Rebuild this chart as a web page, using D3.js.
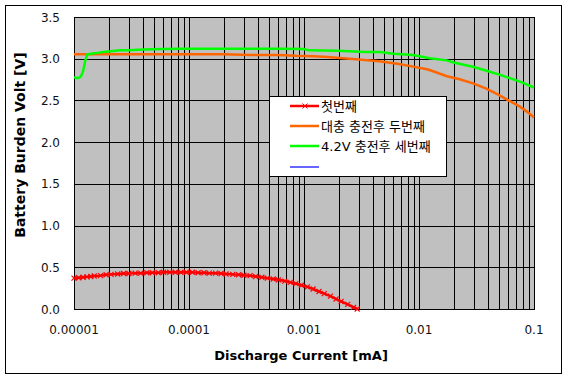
<!DOCTYPE html>
<html>
<head>
<meta charset="utf-8">
<script src="https://cdn.jsdelivr.net/npm/d3@7"></script>
<style>
  html, body { margin: 0; padding: 0; background: #fff; }
  svg { display: block; font-family: "DejaVu Sans", "Noto Sans CJK KR", sans-serif; }
</style>
</head>
<body>
<div id="chart"></div>
<script>
// series names (legend)
const seriesNames = ['첫번째', '대충 충전후 두번째', '4.2V 충전후 세번째', ''];
const seriesColours = ['#ff0000', '#ff6600', '#00ff00', '#0000ff'];

// first run: [current mA, volt]
const firstRun = [
  [1.0e-5, 0.37], [1.1e-5, 0.375], [1.2e-5, 0.38], [1.3e-5, 0.385], [1.4e-5, 0.39],
  [1.5e-5, 0.395], [1.7e-5, 0.40], [1.9e-5, 0.41], [2.1e-5, 0.415], [2.4e-5, 0.42],
  [2.7e-5, 0.425], [3.0e-5, 0.425], [3.4e-5, 0.43], [3.8e-5, 0.43], [4.3e-5, 0.435],
  [4.8e-5, 0.435], [5.4e-5, 0.435], [6.0e-5, 0.44], [6.8e-5, 0.44], [7.6e-5, 0.44],
  [8.5e-5, 0.44], [9.5e-5, 0.44], [1.07e-4, 0.44], [1.2e-4, 0.435], [1.35e-4, 0.435],
  [1.5e-4, 0.43], [1.7e-4, 0.43], [1.9e-4, 0.425], [2.1e-4, 0.42], [2.4e-4, 0.415],
  [2.7e-4, 0.41], [3.0e-4, 0.405], [3.4e-4, 0.40], [3.8e-4, 0.39], [4.3e-4, 0.38],
  [4.8e-4, 0.37], [5.4e-4, 0.36], [6.0e-4, 0.35], [6.8e-4, 0.335], [7.6e-4, 0.32],
  [8.5e-4, 0.305], [9.5e-4, 0.285], [1.07e-3, 0.265], [1.2e-3, 0.24], [1.35e-3, 0.21],
  [1.5e-3, 0.185], [1.7e-3, 0.155], [1.9e-3, 0.12], [2.1e-3, 0.09], [2.4e-3, 0.055],
  [2.7e-3, 0.02], [2.9e-3, 0.0],
];

// second run (rough charge)
const secondRun = [
  [1e-5, 3.055], [5e-5, 3.055], [1e-4, 3.055], [2e-4, 3.055], [3.5e-4, 3.045],
  [6e-4, 3.045], [8.5e-4, 3.035], [1.2e-3, 3.03], [1.6e-3, 3.02], [2.2e-3, 3.005],
  [3.0e-3, 2.99], [4.5e-3, 2.97], [6.5e-3, 2.94], [8.9e-3, 2.905], [0.012, 2.87],
  [0.0175, 2.79], [0.023, 2.75], [0.0295, 2.705], [0.038, 2.645], [0.048, 2.575],
  [0.06, 2.5], [0.0755, 2.425], [0.088, 2.36], [0.1, 2.295],
];

// third run (after 4.2V charge)
const thirdRun = [
  [1e-5, 2.78], [1.05e-5, 2.77], [1.1e-5, 2.77], [1.15e-5, 2.79], [1.2e-5, 2.85],
  [1.25e-5, 2.97], [1.3e-5, 3.05], [1.4e-5, 3.06], [1.6e-5, 3.07], [1.8e-5, 3.08],
  [2.1e-5, 3.09], [2.5e-5, 3.1], [3e-5, 3.1], [4e-5, 3.11], [6e-5, 3.115],
  [8.4e-5, 3.12], [1.5e-4, 3.12], [3e-4, 3.12], [6e-4, 3.12], [1e-3, 3.115],
  [1.1e-3, 3.1], [2e-3, 3.095], [3.4e-3, 3.08], [4.6e-3, 3.08], [6e-3, 3.06],
  [8.9e-3, 3.045], [0.0124, 3.005], [0.0175, 2.98], [0.02, 2.955], [0.03, 2.9],
  [0.04, 2.85], [0.05, 2.81], [0.0755, 2.725], [0.1, 2.655],
];

const xTicks = [1e-5, 1e-4, 1e-3, 1e-2, 1e-1];
const xTickLabels = ['0.00001', '0.0001', '0.001', '0.01', '0.1'];
const yTicks = [0, 0.5, 1, 1.5, 2, 2.5, 3, 3.5];

const width = 568;
const height = 379;
const plot = { left: 74, top: 17, right: 534, bottom: 309 };

const x = d3.scaleLog().domain([1e-5, 0.1]).range([plot.left, plot.right]);
const y = d3.scaleLinear().domain([0, 3.5]).range([plot.bottom, plot.top]);

const svg = d3.select('#chart').append('svg')
    .attr('width', width)
    .attr('height', height);

// outer frame
svg.append('rect')
    .attr('x', 5.5).attr('y', 5.5)
    .attr('width', 556).attr('height', 368)
    .attr('fill', '#fff').attr('stroke', '#000');

// plot background
svg.append('rect')
    .attr('x', plot.left).attr('y', plot.top)
    .attr('width', plot.right - plot.left).attr('height', plot.bottom - plot.top)
    .attr('fill', '#c0c0c0');

// vertical grid: every 1..9 of each decade
const xGrid = [];
for (let d = -5; d < -1; d++) {
  for (let m = 1; m <= 9; m++) xGrid.push(m * Math.pow(10, d));
}
xGrid.push(0.1);

svg.append('g').selectAll('line')
    .data(xGrid)
  .enter().append('line')
    .attr('x1', d => Math.round(x(d)) + 0.5)
    .attr('x2', d => Math.round(x(d)) + 0.5)
    .attr('y1', plot.top).attr('y2', plot.bottom)
    .attr('stroke', '#000');

svg.append('g').selectAll('line')
    .data(yTicks)
  .enter().append('line')
    .attr('x1', plot.left).attr('x2', plot.right)
    .attr('y1', d => Math.round(y(d)) + 0.5)
    .attr('y2', d => Math.round(y(d)) + 0.5)
    .attr('stroke', '#000');

svg.append('rect')
    .attr('x', plot.left + 0.5).attr('y', plot.top + 0.5)
    .attr('width', plot.right - plot.left).attr('height', plot.bottom - plot.top)
    .attr('fill', 'none').attr('stroke', '#000');

// tick labels
svg.append('g').selectAll('text')
    .data(yTicks)
  .enter().append('text')
    .attr('x', 60)
    .attr('y', d => y(d) + 4.5)
    .attr('text-anchor', 'end')
    .attr('font-size', 12)
    .attr('fill', '#111')
    .text(d => d.toFixed(1));

svg.append('g').selectAll('text')
    .data(xTicks)
  .enter().append('text')
    .attr('x', d => x(d))
    .attr('y', 334)
    .attr('text-anchor', 'middle')
    .attr('font-size', 12)
    .attr('fill', '#111')
    .text((d, i) => xTickLabels[i]);

// axis titles
svg.append('text')
    .attr('x', 301).attr('y', 360)
    .attr('text-anchor', 'middle')
    .attr('font-size', 13).attr('font-weight', 'bold')
    .text('Discharge Current [mA]');

svg.append('text')
    .attr('transform', 'translate(25,145) rotate(-90)')
    .attr('text-anchor', 'middle')
    .attr('font-size', 14).attr('font-weight', 'bold')
    .text('Battery Burden Volt [V]');

// series
const line = d3.line().x(d => x(d[0])).y(d => y(d[1]));
svg.append('clipPath').attr('id', 'plotclip')
  .append('rect')
    .attr('x', plot.left).attr('y', plot.top - 4)
    .attr('width', plot.right - plot.left + 1).attr('height', plot.bottom - plot.top + 8);

const series = [firstRun, secondRun, thirdRun];
const g = svg.append('g').attr('clip-path', 'url(#plotclip)');
series.forEach((s, i) => {
  g.append('path')
      .attr('d', line(s))
      .attr('fill', 'none')
      .attr('stroke', seriesColours[i])
      .attr('stroke-width', 2.5);
});

// x markers on the first run
const cross = 'M-2.5,-2.5L2.5,2.5M-2.5,2.5L2.5,-2.5';
svg.append('g').selectAll('path')
    .data(firstRun)
  .enter().append('path')
    .attr('transform', d => `translate(${x(d[0])},${y(d[1])})`)
    .attr('d', cross)
    .attr('stroke', '#ff0000')
    .attr('stroke-width', 1.2)
    .attr('fill', 'none');

// legend
const legend = svg.append('g');
legend.append('rect')
    .attr('x', 269.5).attr('y', 96.5)
    .attr('width', 177).attr('height', 80)
    .attr('fill', '#fff').attr('stroke', '#000');

const rowY = [106, 126, 146, 167];
seriesNames.forEach((name, i) => {
  legend.append('line')
      .attr('x1', 290).attr('x2', 319)
      .attr('y1', rowY[i]).attr('y2', rowY[i])
      .attr('stroke', seriesColours[i])
      .attr('stroke-width', i === 3 ? 1.2 : 2.5);
  if (i === 0) {
    legend.append('path')
        .attr('transform', `translate(305,${rowY[i]})`)
        .attr('d', cross)
        .attr('stroke', '#ff0000')
        .attr('stroke-width', 1)
        .attr('fill', 'none');
  }
  legend.append('text')
      .attr('x', 321).attr('y', rowY[i] + 5)
      .attr('font-size', 13)
      .text(name);
});
</script>
</body>
</html>
